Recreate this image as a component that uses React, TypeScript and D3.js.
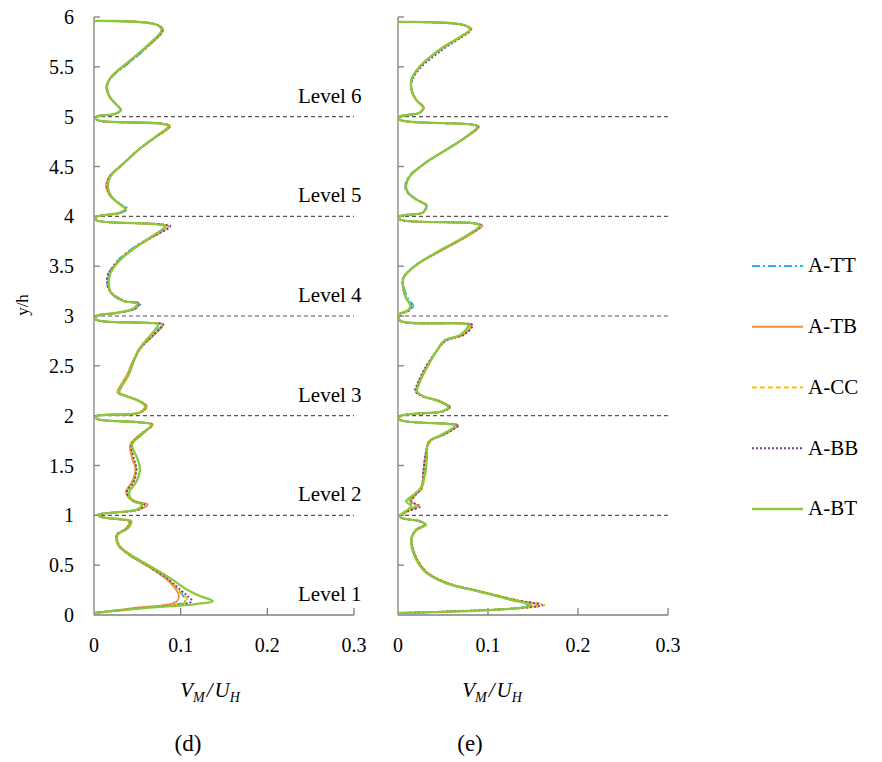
import React, { useEffect, useRef } from 'react';
import * as d3 from 'd3';

// y/h ticks and x ticks (V_M/U_H)
const yTicks = [0, 0.5, 1, 1.5, 2, 2.5, 3, 3.5, 4, 4.5, 5, 5.5, 6];
const yTickLabels = ['0', '0.5', '1', '1.5', '2', '2.5', '3', '3.5', '4', '4.5', '5', '5.5', '6'];
const xTicks = [0, 0.1, 0.2, 0.3];
const xTickLabels = ['0', '0.1', '0.2', '0.3'];
const floorLines = [1, 2, 3, 4, 5];
const levelNames = ['Level 1', 'Level 2', 'Level 3', 'Level 4', 'Level 5', 'Level 6'];
const seriesNames = ['A-TT', 'A-TB', 'A-CC', 'A-BB', 'A-BT'];

// panel (d): shared y/h values, one x array per case
const dY = [
  0.02, 0.07, 0.11, 0.14, 0.19, 0.25, 0.37, 0.5, 0.6, 0.7, 0.8, 0.87, 0.94, 0.96, 0.985,
  1.005, 1.06, 1.11, 1.14, 1.19, 1.24, 1.34, 1.47, 1.57, 1.71, 1.81, 1.91, 1.935, 1.97,
  1.995, 2.03, 2.095, 2.145, 2.195, 2.23, 2.28, 2.41, 2.55, 2.68, 2.815, 2.915, 2.93, 2.965,
  3.0, 3.03, 3.07, 3.125, 3.15, 3.23, 3.33, 3.43, 3.57, 3.7, 3.8, 3.9, 3.92, 3.965,
  3.995, 4.035, 4.075, 4.12, 4.2, 4.3, 4.4, 4.53, 4.68, 4.8, 4.905, 4.93, 4.97,
  5.0, 5.027, 5.067, 5.12, 5.2, 5.3, 5.4, 5.53, 5.7, 5.87, 5.925, 5.96,
];
const dTT = [
  0, 0.05, 0.097, 0.105, 0.103, 0.097, 0.083, 0.06, 0.041, 0.028, 0.026, 0.037, 0.041, 0.03, 0.007,
  0.005, 0.05, 0.056, 0.046, 0.039, 0.038, 0.045, 0.048, 0.045, 0.043, 0.053, 0.067, 0.05, 0.003,
  0.003, 0.052, 0.059, 0.052, 0.037, 0.028, 0.03, 0.039, 0.045, 0.053, 0.068, 0.078, 0.065, 0.002,
  0.003, 0.025, 0.047, 0.054, 0.036, 0.021, 0.015, 0.017, 0.029, 0.048, 0.067, 0.084, 0.075, 0.002,
  0.003, 0.031, 0.039, 0.031, 0.02, 0.015, 0.018, 0.034, 0.053, 0.072, 0.087, 0.078, 0.003,
  0.003, 0.024, 0.031, 0.026, 0.018, 0.015, 0.021, 0.039, 0.062, 0.079, 0.072, 0,
];
const dTB = [
  0, 0.045, 0.088, 0.096, 0.098, 0.095, 0.082, 0.06, 0.041, 0.028, 0.026, 0.037, 0.041, 0.03, 0.007,
  0.005, 0.053, 0.062, 0.048, 0.039, 0.037, 0.044, 0.048, 0.044, 0.042, 0.053, 0.068, 0.05, 0.003,
  0.003, 0.053, 0.061, 0.053, 0.037, 0.027, 0.029, 0.038, 0.045, 0.054, 0.07, 0.08, 0.066, 0.002,
  0.003, 0.025, 0.046, 0.052, 0.035, 0.02, 0.016, 0.018, 0.03, 0.05, 0.069, 0.086, 0.076, 0.002,
  0.003, 0.03, 0.036, 0.03, 0.019, 0.014, 0.018, 0.034, 0.053, 0.072, 0.088, 0.079, 0.003,
  0.003, 0.024, 0.031, 0.026, 0.018, 0.014, 0.02, 0.037, 0.061, 0.08, 0.072, 0,
];
const dCC = [
  0, 0.052, 0.1, 0.108, 0.105, 0.098, 0.084, 0.061, 0.041, 0.028, 0.026, 0.037, 0.041, 0.03, 0.007,
  0.005, 0.052, 0.059, 0.047, 0.039, 0.038, 0.045, 0.049, 0.045, 0.043, 0.053, 0.067, 0.05, 0.003,
  0.003, 0.053, 0.06, 0.053, 0.038, 0.028, 0.03, 0.039, 0.046, 0.054, 0.069, 0.079, 0.065, 0.002,
  0.003, 0.025, 0.045, 0.051, 0.034, 0.02, 0.016, 0.018, 0.03, 0.049, 0.068, 0.085, 0.075, 0.002,
  0.003, 0.03, 0.037, 0.03, 0.02, 0.015, 0.018, 0.034, 0.053, 0.072, 0.088, 0.078, 0.003,
  0.003, 0.024, 0.031, 0.026, 0.018, 0.015, 0.02, 0.037, 0.061, 0.079, 0.072, 0,
];
const dBB = [
  0, 0.055, 0.104, 0.113, 0.108, 0.1, 0.084, 0.061, 0.042, 0.029, 0.026, 0.038, 0.042, 0.031, 0.007,
  0.005, 0.052, 0.058, 0.047, 0.04, 0.038, 0.046, 0.049, 0.046, 0.043, 0.054, 0.067, 0.05, 0.003,
  0.003, 0.053, 0.06, 0.053, 0.038, 0.029, 0.031, 0.04, 0.046, 0.054, 0.069, 0.08, 0.066, 0.002,
  0.003, 0.025, 0.046, 0.052, 0.035, 0.02, 0.015, 0.017, 0.03, 0.049, 0.069, 0.088, 0.077, 0.002,
  0.003, 0.03, 0.037, 0.03, 0.02, 0.015, 0.018, 0.034, 0.053, 0.072, 0.087, 0.078, 0.003,
  0.003, 0.024, 0.031, 0.026, 0.018, 0.015, 0.02, 0.038, 0.061, 0.079, 0.072, 0,
];
const dBT = [
  0, 0.058, 0.118, 0.137, 0.122, 0.108, 0.088, 0.063, 0.043, 0.029, 0.027, 0.039, 0.043, 0.031, 0.008,
  0.005, 0.05, 0.055, 0.045, 0.041, 0.041, 0.049, 0.053, 0.05, 0.044, 0.055, 0.066, 0.05, 0.003,
  0.003, 0.052, 0.059, 0.052, 0.038, 0.029, 0.031, 0.04, 0.046, 0.053, 0.066, 0.074, 0.062, 0.002,
  0.003, 0.025, 0.044, 0.05, 0.034, 0.02, 0.017, 0.019, 0.031, 0.05, 0.067, 0.082, 0.073, 0.002,
  0.003, 0.029, 0.036, 0.03, 0.02, 0.016, 0.019, 0.034, 0.053, 0.071, 0.086, 0.077, 0.003,
  0.003, 0.024, 0.031, 0.026, 0.018, 0.015, 0.02, 0.037, 0.06, 0.078, 0.071, 0,
];

// panel (e)
const eY = [
  0.02, 0.07, 0.1, 0.15, 0.235, 0.32, 0.436, 0.6, 0.77, 0.855, 0.906, 0.94, 0.973,
  0.993, 1.04, 1.09, 1.14, 1.19, 1.272, 1.406, 1.574, 1.74, 1.81, 1.903, 1.916, 1.96,
  1.993, 2.044, 2.084, 2.145, 2.195, 2.245, 2.31, 2.48, 2.65, 2.75, 2.815, 2.91, 2.925, 2.956,
  3.02, 3.05, 3.1, 3.18, 3.28, 3.38, 3.51, 3.65, 3.8, 3.907, 3.93, 3.97,
  4.0, 4.04, 4.11, 4.17, 4.24, 4.3, 4.4, 4.54, 4.67, 4.8, 4.9, 4.92, 4.97,
  5.0, 5.04, 5.09, 5.17, 5.27, 5.37, 5.5, 5.67, 5.8, 5.874, 5.917, 5.95,
];
const eTT = [
  0, 0.132, 0.145, 0.126, 0.09, 0.054, 0.031, 0.019, 0.015, 0.02, 0.03, 0.024, 0.004,
  0.002, 0.009, 0.019, 0.012, 0.017, 0.026, 0.028, 0.03, 0.035, 0.05, 0.066, 0.059, 0.002,
  0.002, 0.051, 0.058, 0.046, 0.028, 0.02, 0.022, 0.031, 0.043, 0.052, 0.072, 0.08, 0.07, 0.002,
  0.002, 0.012, 0.017, 0.011, 0.007, 0.006, 0.02, 0.046, 0.076, 0.092, 0.085, 0.002,
  0.002, 0.028, 0.032, 0.021, 0.01, 0.008, 0.012, 0.031, 0.054, 0.076, 0.089, 0.083, 0.002,
  0.002, 0.024, 0.028, 0.02, 0.015, 0.015, 0.024, 0.046, 0.069, 0.08, 0.074, 0,
];
const eTB = [
  0, 0.135, 0.155, 0.13, 0.092, 0.055, 0.031, 0.019, 0.015, 0.02, 0.03, 0.024, 0.004,
  0.002, 0.01, 0.022, 0.014, 0.018, 0.026, 0.028, 0.03, 0.035, 0.051, 0.067, 0.06, 0.002,
  0.002, 0.05, 0.058, 0.047, 0.028, 0.02, 0.022, 0.031, 0.043, 0.052, 0.073, 0.082, 0.071, 0.002,
  0.002, 0.011, 0.014, 0.009, 0.006, 0.006, 0.02, 0.047, 0.077, 0.094, 0.086, 0.002,
  0.002, 0.028, 0.031, 0.02, 0.011, 0.0085, 0.013, 0.031, 0.054, 0.077, 0.09, 0.084, 0.002,
  0.002, 0.024, 0.029, 0.02, 0.015, 0.015, 0.024, 0.046, 0.069, 0.08, 0.074, 0,
];
const eCC = [
  0, 0.14, 0.163, 0.133, 0.094, 0.056, 0.032, 0.019, 0.015, 0.02, 0.031, 0.024, 0.004,
  0.002, 0.01, 0.021, 0.013, 0.018, 0.027, 0.029, 0.031, 0.036, 0.05, 0.066, 0.059, 0.002,
  0.002, 0.05, 0.057, 0.046, 0.028, 0.02, 0.022, 0.031, 0.043, 0.052, 0.072, 0.081, 0.07, 0.002,
  0.002, 0.011, 0.015, 0.009, 0.0056, 0.0056, 0.02, 0.046, 0.076, 0.092, 0.085, 0.002,
  0.002, 0.028, 0.032, 0.02, 0.011, 0.0085, 0.013, 0.031, 0.054, 0.076, 0.089, 0.083, 0.002,
  0.002, 0.024, 0.028, 0.02, 0.015, 0.015, 0.024, 0.047, 0.07, 0.082, 0.075, 0,
];
const eBB = [
  0, 0.138, 0.16, 0.131, 0.092, 0.055, 0.031, 0.019, 0.015, 0.02, 0.03, 0.024, 0.004,
  0.002, 0.011, 0.025, 0.015, 0.018, 0.026, 0.028, 0.03, 0.035, 0.051, 0.067, 0.06, 0.002,
  0.002, 0.05, 0.057, 0.046, 0.027, 0.019, 0.021, 0.03, 0.043, 0.053, 0.074, 0.083, 0.072, 0.002,
  0.002, 0.011, 0.015, 0.009, 0.0056, 0.0056, 0.02, 0.046, 0.076, 0.092, 0.085, 0.002,
  0.002, 0.028, 0.031, 0.02, 0.011, 0.0085, 0.013, 0.031, 0.054, 0.076, 0.089, 0.083, 0.002,
  0.002, 0.024, 0.028, 0.02, 0.015, 0.016, 0.026, 0.049, 0.071, 0.081, 0.074, 0,
];
const eBT = [
  0, 0.134, 0.148, 0.127, 0.09, 0.053, 0.03, 0.018, 0.015, 0.021, 0.031, 0.025, 0.004,
  0.002, 0.008, 0.015, 0.009, 0.015, 0.025, 0.03, 0.032, 0.034, 0.049, 0.064, 0.057, 0.002,
  0.002, 0.049, 0.056, 0.045, 0.028, 0.021, 0.023, 0.032, 0.043, 0.051, 0.07, 0.078, 0.068, 0.002,
  0.002, 0.01, 0.014, 0.009, 0.006, 0.006, 0.02, 0.045, 0.075, 0.091, 0.084, 0.002,
  0.002, 0.028, 0.031, 0.02, 0.011, 0.009, 0.013, 0.031, 0.054, 0.076, 0.088, 0.082, 0.002,
  0.002, 0.024, 0.028, 0.02, 0.015, 0.015, 0.024, 0.046, 0.069, 0.08, 0.074, 0,
];

const colors = ['#29b5e6', '#f08a45', '#f2c200', '#6a3f9c', '#8cc63f'];
const dashes = ['8,3,2,3', null, '5,3', '2,2', null];
const widths = [1.8, 1.8, 1.8, 1.8, 2.3];

const serif = "'Liberation Serif', 'Times New Roman', 'DejaVu Serif', serif";

export default function App() {
  const ref = useRef<SVGSVGElement>(null);

  useEffect(() => {
    const svg = d3.select(ref.current);
    svg.selectAll('*').remove();
    svg.style('font-family', serif);

    const y = d3.scaleLinear().domain([0, 6]).range([615, 17]);

    const panels = [
      { r: [94, 354], ys: dY, series: [dTT, dTB, dCC, dBB, dBT], yLabels: true, tag: '(d)', tagX: 188, labX: 210 },
      { r: [398, 668], ys: eY, series: [eTT, eTB, eCC, eBB, eBT], yLabels: false, tag: '(e)', tagX: 470, labX: 492 },
    ];

    panels.forEach(p => {
      const x = d3.scaleLinear().domain([0, 0.3]).range(p.r);
      const g = svg.append('g');

      // floor dashed lines
      g.selectAll('line.floor')
        .data(floorLines)
        .join('line')
        .attr('x1', x(0)).attr('x2', x(0.3))
        .attr('y1', d => y(d)).attr('y2', d => y(d))
        .attr('stroke', '#555')
        .attr('stroke-width', 1.2)
        .attr('stroke-dasharray', '4,3');

      // axes
      g.append('line')
        .attr('x1', x(0)).attr('x2', x(0))
        .attr('y1', y(6)).attr('y2', y(0))
        .attr('stroke', '#7f7f7f').attr('stroke-width', 1.3);
      g.append('line')
        .attr('x1', x(0)).attr('x2', x(0.3))
        .attr('y1', y(0)).attr('y2', y(0))
        .attr('stroke', '#7f7f7f').attr('stroke-width', 1.3);

      g.selectAll('line.yt')
        .data(yTicks.slice(1))
        .join('line')
        .attr('x1', x(0)).attr('x2', x(0) + 6)
        .attr('y1', d => y(d)).attr('y2', d => y(d))
        .attr('stroke', '#7f7f7f').attr('stroke-width', 1.3);
      g.selectAll('line.xt')
        .data(xTicks.slice(1))
        .join('line')
        .attr('x1', d => x(d)).attr('x2', d => x(d))
        .attr('y1', y(0)).attr('y2', y(0) - 7)
        .attr('stroke', '#7f7f7f').attr('stroke-width', 1.3);

      g.selectAll('text.xl')
        .data(xTicks)
        .join('text')
        .attr('x', d => x(d))
        .attr('y', 652)
        .attr('text-anchor', 'middle')
        .attr('font-size', 20)
        .text((d, i) => xTickLabels[i]);

      if (p.yLabels) {
        g.selectAll('text.yl')
          .data(yTicks)
          .join('text')
          .attr('x', 74)
          .attr('y', d => y(d))
          .attr('dy', '0.35em')
          .attr('text-anchor', 'end')
          .attr('font-size', 20)
          .text((d, i) => yTickLabels[i]);
      }

      // profiles
      const line = d3.line<number>()
        .x(d => x(d))
        .y((d, i) => y(p.ys[i]))
        .curve(d3.curveCatmullRom.alpha(0.5));

      p.series.forEach((s, k) => {
        g.append('path')
          .attr('d', line(s))
          .attr('fill', 'none')
          .attr('stroke', colors[k])
          .attr('stroke-width', widths[k])
          .attr('stroke-dasharray', dashes[k])
          .attr('stroke-linejoin', 'round');
      });

      // x label V_M/U_H
      const t = g.append('text')
        .attr('x', p.labX)
        .attr('y', 697)
        .attr('text-anchor', 'middle')
        .attr('font-style', 'italic')
        .attr('font-size', 21);
      t.append('tspan').text('V');
      t.append('tspan').attr('dy', 5).attr('font-size', 14).text('M');
      t.append('tspan').attr('dy', -5).attr('dx', 2).text('/');
      t.append('tspan').attr('dx', 2).text('U');
      t.append('tspan').attr('dy', 5).attr('font-size', 14).text('H');

      g.append('text')
        .attr('x', p.tagX)
        .attr('y', 751)
        .attr('text-anchor', 'middle')
        .attr('font-size', 23)
        .text(p.tag);
    });

    // level labels
    svg.selectAll('text.level')
      .data(levelNames)
      .join('text')
      .attr('x', 298)
      .attr('y', (d, i) => y(i) - 14)
      .attr('font-size', 21)
      .text(d => d);

    // y/h label
    svg.append('text')
      .attr('transform', 'translate(28,305) rotate(-90)')
      .attr('text-anchor', 'middle')
      .attr('font-size', 17)
      .text('y/h');

    // legend
    const leg = d3.scalePoint<string>().domain(seriesNames).range([266, 509]);
    const lg = svg.append('g');
    seriesNames.forEach((n, k) => {
      lg.append('line')
        .attr('x1', 752).attr('x2', 803)
        .attr('y1', leg(n)!).attr('y2', leg(n)!)
        .attr('stroke', colors[k])
        .attr('stroke-width', widths[k])
        .attr('stroke-dasharray', dashes[k]);
      lg.append('text')
        .attr('x', 808)
        .attr('y', leg(n)!)
        .attr('dy', '0.3em')
        .attr('font-size', 21)
        .text(n);
    });
  }, []);

  return (
    <svg
      ref={ref}
      width={882}
      height={762}
      style={{ position: 'absolute', left: 0, top: 0, background: '#fff' }}
    />
  );
}
